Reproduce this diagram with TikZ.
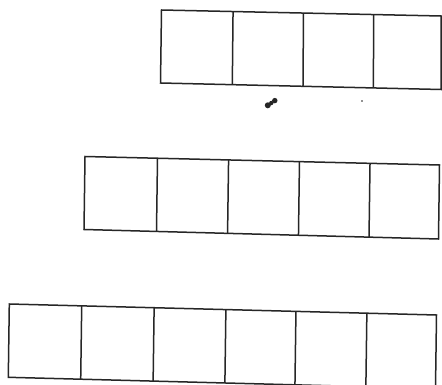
\documentclass[tikz,border=0pt]{standalone}
\usetikzlibrary{calc}
\begin{document}
\begin{tikzpicture}[x=1pt,y=-1pt,
  cell/.style={draw=black!85, line width=1.5pt, line join=miter},
  speck/.style={fill=black!85}]
\useasboundingbox (0,0) rectangle (442,385);
\fill[white] (0,0) rectangle (442,385);
\clip (0,0) rectangle (442,385);
% row 1 (4 cells)
\coordinate (r1tl) at (161.5,10);
\coordinate (r1tr) at (441,16);
\coordinate (r1br) at (441,89.5);
\coordinate (r1bl) at (160.5,83);
\draw[cell] (r1tl) -- (r1tr) -- (r1br) -- (r1bl) -- cycle;
\foreach \f in {0.256,0.508,0.759}
  \draw[cell] ($(r1tl)!\f!(r1tr)$) -- ($(r1bl)!\f!(r1br)$);
% row 2 (5 cells)
\coordinate (r2tl) at (85,156.5);
\coordinate (r2tr) at (439.5,165);
\coordinate (r2br) at (438.5,239);
\coordinate (r2bl) at (84,229.5);
\draw[cell] (r2tl) -- (r2tr) -- (r2br) -- (r2bl) -- cycle;
\foreach \f in {0.2045,0.405,0.605,0.804}
  \draw[cell] ($(r2tl)!\f!(r2tr)$) -- ($(r2bl)!\f!(r2br)$);
% row 3 (6 cells)
\coordinate (r3tl) at (9.3,304);
\coordinate (r3tr) at (436.5,315);
\coordinate (r3br) at (435.5,388.5);
\coordinate (r3bl) at (8.3,377.3);
\draw[cell] (r3tl) -- (r3tr) -- (r3br) -- (r3bl) -- cycle;
\foreach \f in {0.1695,0.339,0.507,0.671,0.837}
  \draw[cell] ($(r3tl)!\f!(r3tr)$) -- ($(r3bl)!\f!(r3br)$);
% specks
\fill[speck] (267.8,105.3) circle (3);
\fill[speck] (274.8,100.6) circle (2.7);
\fill[speck] (271.3,103) circle (2.2);
\fill[speck] (362,101) circle (0.8);
\end{tikzpicture}
\end{document}
